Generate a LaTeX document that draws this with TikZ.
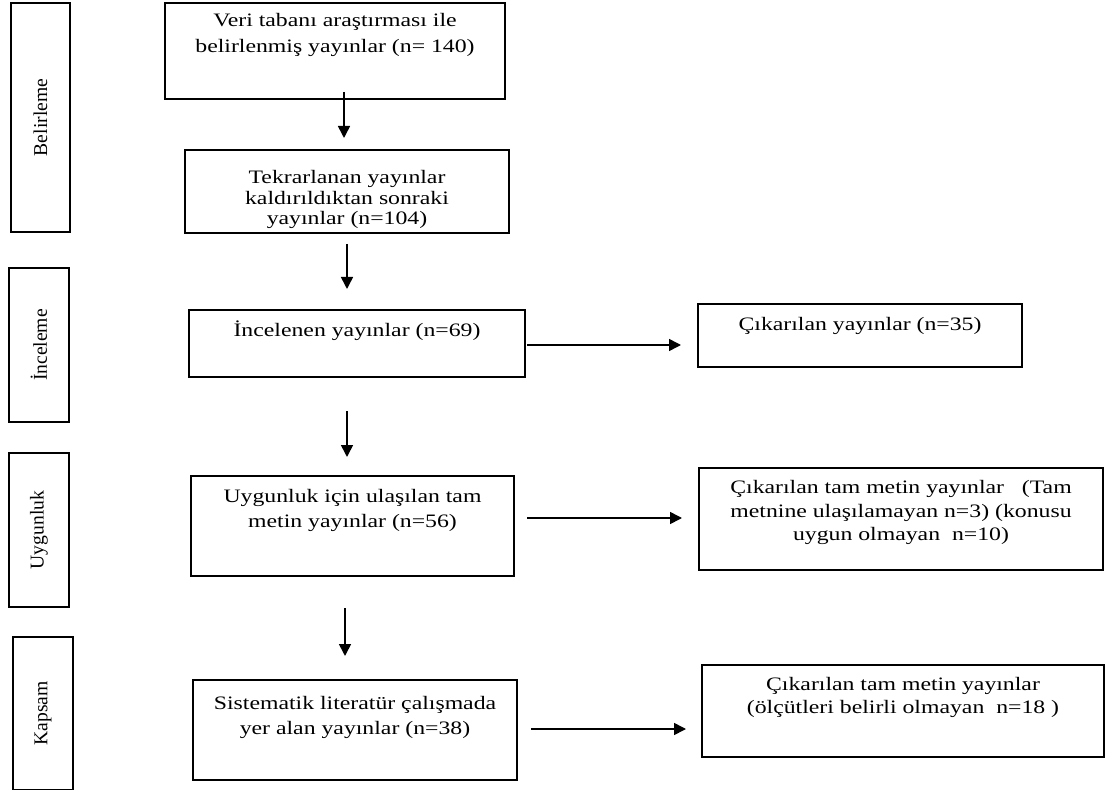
\documentclass[tikz,border=0pt]{standalone}
\usepackage{fontspec}
\setmainfont{Liberation Serif}
\newfontfamily\boxfont[FakeStretch=1.25]{Liberation Serif}
\usetikzlibrary{arrows.meta}
\begin{document}
\begin{tikzpicture}[x=1pt,y=-1pt,
  box/.style={draw=black,line width=1.3pt,rectangle,inner sep=0pt},
  txt/.style={anchor=north,inner sep=0pt,align=center,font=\boxfont\fontsize{19}{25}\selectfont},
  side/.style={rotate=90,inner sep=0pt,font=\rmfamily\fontsize{19.6}{22}\selectfont},
  arr/.style={line width=1.6pt,-{Triangle[width=12pt,length=12pt]}}]
\useasboundingbox (0,0) rectangle (1105,791);
% side labels
\node[box,minimum width=59,minimum height=229] (l1) at (40.5,117.5) {};
\node[side] (l1t) at (l1.center) {Belirleme};
\node[box,minimum width=60,minimum height=154] (l2) at (39,345) {};
\node[side] (l2t) at (l2.center) {İnceleme};
\node[box,minimum width=60,minimum height=154] (l3) at (39,530) {};
\node[side] (l3t) at (l3.center) {Uygunluk};
\node[box,minimum width=60,minimum height=152.5] (l4) at (43,713.25) {};
\node[side] (l4t) at (l4.center) {Kapsam};
% main boxes
\node[box,minimum width=340,minimum height=96] (b1) at (335,51) {};
\node[txt,font=\boxfont\fontsize{19}{26}\selectfont] (t1) at (335,8) {\strut Veri tabanı araştırması ile\\belirlenmiş yayınlar (n= 140)};
\node[box,minimum width=324,minimum height=83] (b2) at (347,191.5) {};
\node[txt,font=\boxfont\fontsize{19}{20.5}\selectfont] (t2) at (347,169) {\strut Tekrarlanan yayınlar\\kaldırıldıktan sonraki\\yayınlar (n=104)};
\node[box,minimum width=336,minimum height=67] (b3) at (357,343.5) {};
\node[txt] (t3) at (357,319) {\strut İncelenen yayınlar (n=69)};
\node[box,minimum width=324,minimum height=63] (b4) at (860,335.5) {};
\node[txt] (t4) at (860,312.5) {\strut Çıkarılan yayınlar (n=35)};
\node[box,minimum width=323,minimum height=100] (b5) at (352.5,526) {};
\node[txt,font=\boxfont\fontsize{19}{25}\selectfont] (t5) at (352.5,485) {\strut Uygunluk için ulaşılan tam\\metin yayınlar (n=56)};
\node[box,minimum width=404,minimum height=102] (b6) at (901,519) {};
\node[txt,font=\boxfont\fontsize{19}{23.5}\selectfont] (t6) at (901,477) {\strut Çıkarılan tam metin yayınlar \ \ (Tam\\metnine ulaşılamayan n=3) (konusu\\uygun olmayan \ n=10)};
\node[box,minimum width=324,minimum height=100] (b7) at (355,730) {};
\node[txt] (t7) at (355,691.5) {\strut Sistematik literatür çalışmada\\yer alan yayınlar (n=38)};
\node[box,minimum width=402,minimum height=92] (b8) at (903,711) {};
\node[txt,font=\boxfont\fontsize{19}{23}\selectfont] (t8) at (903,674) {\strut Çıkarılan tam metin yayınlar\\(ölçütleri belirli olmayan \ n=18 )};
% arrow ends
\coordinate (a1s) at (344,92);  \coordinate (a1e) at (344,138);
\coordinate (a2s) at (347,244); \coordinate (a2e) at (347,289);
\coordinate (a3s) at (347,411); \coordinate (a3e) at (347,457);
\coordinate (a4s) at (345,608); \coordinate (a4e) at (345,656);
\coordinate (h1s) at (527,345); \coordinate (h1e) at (681,345);
\coordinate (h2s) at (527,518); \coordinate (h2e) at (682,518);
\coordinate (h3s) at (531,729); \coordinate (h3e) at (686,729);
\draw[arr] (a1s) -- (a1e);
\draw[arr] (a2s) -- (a2e);
\draw[arr] (a3s) -- (a3e);
\draw[arr] (a4s) -- (a4e);
\draw[arr] (h1s) -- (h1e);
\draw[arr] (h2s) -- (h2e);
\draw[arr] (h3s) -- (h3e);
\end{tikzpicture}
\end{document}
